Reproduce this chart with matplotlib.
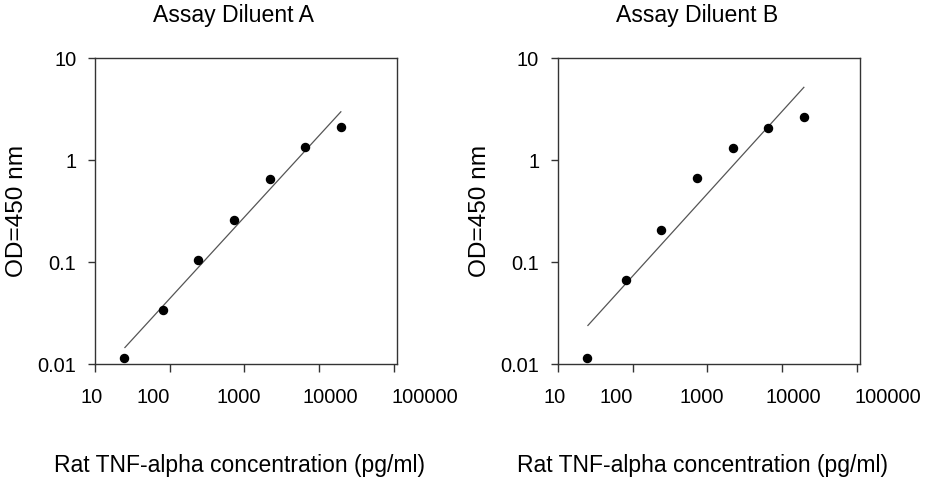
import numpy as np
import matplotlib
matplotlib.use("Agg")
import matplotlib.pyplot as plt

plt.rcParams['font.family'] = ['Liberation Sans', 'DejaVu Sans']

# Data
conc = [24.4, 81.0, 242.0, 727.0, 2200.0, 6500.0, 19500.0]
od_a = [0.0114, 0.0341, 0.105, 0.256, 0.646, 1.34, 2.09]
od_b = [0.0114, 0.0671, 0.2075, 0.671, 1.30, 2.06, 2.62]
titles = ["Assay Diluent A", "Assay Diluent B"]
xlabel = "Rat TNF-alpha concentration (pg/ml)"
ylabel = "OD=450 nm"
xtick_vals = [10, 100, 1000, 10000, 100000]
xtick_labels = ["10", "100", "1000", "10000", "100000"]
ytick_vals = [0.01, 0.1, 1, 10]
ytick_labels = ["0.01", "0.1", "1", "10"]

W, H = 926, 480
fig = plt.figure(figsize=(W / 100, H / 100), dpi=100)

# layout (pixels)
ax_lefts = [95, 558]
ax_top, ax_bottom, ax_w = 58, 364, 302
# x tick label positions in axes fraction (as drawn in reference)
xlab_pos = [-0.01, 0.192, 0.477, 0.778, 1.093]

edge = '#333333'
for i, (od, title) in enumerate(zip([od_a, od_b], titles)):
    ax = fig.add_axes([ax_lefts[i] / W, (H - ax_bottom) / H, ax_w / W, (ax_bottom - ax_top) / H])
    ax.set_xscale('log')
    ax.set_yscale('log')
    ax.set_xlim(10, 1.1e5)
    ax.set_ylim(0.01, 10)

    # fitted line in log-log space
    lx, ly = np.log10(conc), np.log10(od)
    slope, icpt = np.polyfit(lx, ly, 1)
    xx = np.array([conc[0] * 1.03, conc[-1]])
    ax.plot(xx, 10 ** (icpt + slope * np.log10(xx)), color='#555555', lw=0.9)
    ax.plot(conc, od, 'o', color='black', ms=5.8, clip_on=False)

    for s in ax.spines.values():
        s.set_color(edge)
        s.set_linewidth(1.0)

    ax.set_xticks(xtick_vals)
    ax.set_xticklabels([])
    ax.xaxis.set_minor_locator(matplotlib.ticker.NullLocator())
    ax.yaxis.set_minor_locator(matplotlib.ticker.NullLocator())
    ax.set_yticks(ytick_vals)
    ax.set_yticklabels(ytick_labels)
    ax.tick_params(axis='x', direction='out', length=6, width=1.0, color=edge)
    ax.tick_params(axis='y', direction='out', length=5, width=1.0, color=edge,
                   labelsize=14.4, pad=8.5)
    for xp, lab in zip(xlab_pos, xtick_labels):
        ax.text(xp, -0.108, lab, transform=ax.transAxes, ha='center', va='center',
                fontsize=14.4, clip_on=False)

    ax.set_title(title, fontsize=16.6, x=0.46, y=1.14, va='center', pad=0)
    ax.set_xlabel(xlabel, fontsize=16.5)
    ax.xaxis.set_label_coords(0.479, -0.333)
    ax.xaxis.label.set_va('center')
    ax.set_ylabel(ylabel, fontsize=17.6)
    ax.yaxis.set_label_coords(-0.258, 0.5)
    ax.yaxis.label.set_va('center')

fig.savefig("out.png", dpi=100, facecolor='white')
